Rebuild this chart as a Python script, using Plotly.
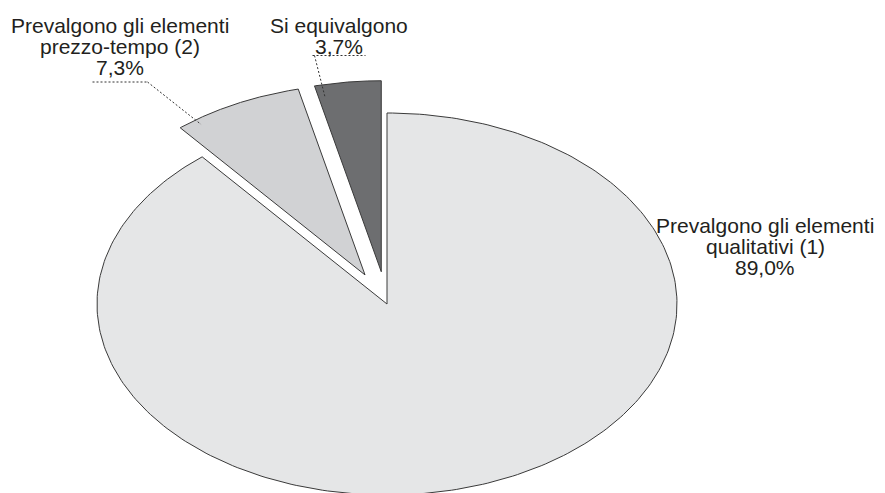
import numpy as np
import plotly.graph_objects as go

# ---- data ----
categories = ["Prevalgono gli elementi qualitativi (1)",
              "Prevalgono gli elementi prezzo-tempo (2)",
              "Si equivalgono"]
label_lines = [["Prevalgono gli elementi", "qualitativi (1)"],
               ["Prevalgono gli elementi", "prezzo-tempo (2)"],
               ["Si equivalgono"]]
values = [89.0, 7.3, 3.7]

# ---- style / layout (reference pixel coordinates) ----
W, H = 885, 493
OFF = 8                     # page body margin of the browser
FW, FH = W - OFF, H - OFF   # figure size
CX, CY = 387, 304           # pie centre (reference px)
RX, RY = 290, 191           # ellipse radii (px)
colors = ["#e5e6e7", "#d1d2d4", "#6d6e70"]
pulls = [0.0, 0.17, 0.17]
FONT = "Liberation Sans, Arial, Helvetica, sans-serif"
FS = 21
LINE_H = 20.5
TXT = "#231f20"
label_pos = [(765, 233), (120, 33), (339, 33)]     # centre x, first baseline y
leader_frac = [None, 0.85, 0.9]
leader_r = [None, 0.97, 0.93]
under_gap = [None, 8, 2]
under_half = [None, 27.5, 26.5]

# axis ranges so that the unit circle maps onto the ellipse
cxf, cyf = CX - OFF, CY - OFF
xr = [-cxf / RX, (FW - cxf) / RX]
yr = [-(FH - cyf) / RY, cyf / RY]

def to_px(x, y):
    return (x - xr[0]) / (xr[1] - xr[0]) * FW + OFF, FH - (y - yr[0]) / (yr[1] - yr[0]) * FH + OFF

def px_to_paper(px, py):
    return (px - OFF) / FW, 1 - (py - OFF) / FH

fig = go.Figure()
total = sum(values)
start = 0.0
geo = []
for i, v in enumerate(values):
    a0 = start
    a1 = start + v / total * 360.0
    start = a1
    mid = np.radians((a0 + a1) / 2)
    ox, oy = pulls[i] * np.sin(mid), pulls[i] * np.cos(mid)
    th = np.radians(np.linspace(a0, a1, 300))
    xs = np.concatenate([[ox], ox + np.sin(th), [ox]])
    ys = np.concatenate([[oy], oy + np.cos(th), [oy]])
    fig.add_trace(go.Scatter(x=xs, y=ys, mode="lines", fill="toself",
                             fillcolor=colors[i],
                             line=dict(color="#3a3a3a", width=1),
                             name=categories[i], hoverinfo="name",
                             showlegend=False))
    geo.append((a0, a1, ox, oy))

annotations = []
shapes = []
for i, v in enumerate(values):
    lx, ly = label_pos[i]
    lines = label_lines[i] + [f"{v:.1f}".replace(".", ",") + "%"]
    for k, t in enumerate(lines):
        by = ly + k * LINE_H
        ax_, ay_ = px_to_paper(lx, by - 7)
        annotations.append(dict(text=t, x=ax_, y=ay_,
                                xref="paper", yref="paper", xanchor="center",
                                yanchor="middle", showarrow=False,
                                font=dict(family=FONT, size=FS, color=TXT)))
    if leader_frac[i] is not None:
        a0, a1, ox, oy = geo[i]
        ang = np.radians(a1 - leader_frac[i] * (a1 - a0))
        ex, ey = to_px(ox + leader_r[i] * np.sin(ang), oy + leader_r[i] * np.cos(ang))
        last_base = ly + (len(lines) - 1) * LINE_H
        hy = last_base + under_gap[i]
        hx0, hx1 = lx - under_half[i], lx + under_half[i]
        sx = hx1 if ex > lx else hx0 + 2
        p0 = px_to_paper(hx0, hy)
        p1 = px_to_paper(hx1, hy)
        ps = px_to_paper(sx, hy)
        pe = px_to_paper(ex, ey)
        path = (f"M {p0[0]},{p0[1]} L {p1[0]},{p1[1]} "
                f"M {ps[0]},{ps[1]} L {pe[0]},{pe[1]}")
        shapes.append(dict(type="path", xref="paper", yref="paper", path=path,
                           line=dict(color="#333333", width=1, dash="2px,2px")))

fig.update_layout(
    width=FW, height=FH, autosize=False,
    margin=dict(l=0, r=0, t=0, b=0),
    paper_bgcolor="white", plot_bgcolor="white",
    xaxis=dict(range=xr, visible=False, fixedrange=True),
    yaxis=dict(range=yr, visible=False, fixedrange=True),
    annotations=annotations, shapes=shapes,
    showlegend=False,
)
fig.write_html("out.html")
